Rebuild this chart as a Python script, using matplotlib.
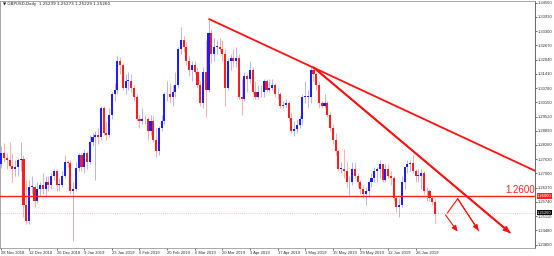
import matplotlib
matplotlib.use("Agg")
import matplotlib.pyplot as plt
import matplotlib.transforms as mtransforms
import numpy as np

plt.rcParams['font.family'] = ['Liberation Sans', 'DejaVu Sans']

# daily GBPUSD bars, 28 Nov 2018 .. 8 Jul 2019
opens = [1.2740, 1.2790, 1.2770, 1.2760, 1.2735, 1.2720, 1.2730, 1.2760, 1.2765, 1.2560,
         1.2490, 1.2640, 1.2640, 1.2580, 1.2630, 1.2650, 1.2630, 1.2660, 1.2650, 1.2690,
         1.2710, 1.2650, 1.2650, 1.2690, 1.2750, 1.2745, 1.2620, 1.2630, 1.2725, 1.2780,
         1.2730, 1.2790, 1.2750, 1.2840, 1.2860, 1.2870, 1.2860, 1.2990, 1.2880, 1.2870,
         1.2960, 1.3050, 1.3070, 1.3200, 1.3180, 1.3080, 1.3110, 1.3110, 1.3080, 1.3040,
         1.2940, 1.2930, 1.2940, 1.2940, 1.2890, 1.2930, 1.2850, 1.2800, 1.2900, 1.2930,
         1.3050, 1.3050, 1.3040, 1.3060, 1.3090, 1.3250, 1.3290, 1.3260, 1.3200, 1.3160,
         1.3180, 1.3150, 1.3090, 1.3010, 1.3150, 1.3070, 1.3320, 1.3230, 1.3260, 1.3260,
         1.3250, 1.3230, 1.3080, 1.3200, 1.3210, 1.3200, 1.3210, 1.3040, 1.3030, 1.3130,
         1.3120, 1.3160, 1.3060, 1.3040, 1.3060, 1.3060, 1.3110, 1.3070, 1.3080, 1.3090,
         1.3050, 1.3050, 1.3000, 1.3005, 1.3010, 1.2945, 1.2890, 1.2895, 1.2915, 1.2940,
         1.3040, 1.3040, 1.3040, 1.3160, 1.3140, 1.3090, 1.3010, 1.3000, 1.3010, 1.2960,
         1.2900, 1.2850, 1.2800, 1.2720, 1.2720, 1.2710, 1.2660, 1.2660, 1.2720, 1.2690,
         1.2660, 1.2630, 1.2610, 1.2620, 1.2660, 1.2680, 1.2710, 1.2720, 1.2740, 1.2670,
         1.2720, 1.2690, 1.2680, 1.2590, 1.2550, 1.2560, 1.2660, 1.2730, 1.2740, 1.2745,
         1.2710, 1.2690, 1.2690, 1.2700, 1.2620, 1.2620, 1.2590, 1.2575, 1.25239]
highs = [1.2820, 1.2835, 1.2790, 1.2840, 1.2790, 1.2760, 1.2770, 1.2840, 1.2780, 1.2670,
         1.2670, 1.2690, 1.2650, 1.2660, 1.2660, 1.2700, 1.2690, 1.2690, 1.2700, 1.2720,
         1.2720, 1.2680, 1.2710, 1.2780, 1.2760, 1.2760, 1.2660, 1.2750, 1.2790, 1.2790,
         1.2810, 1.2800, 1.2870, 1.2880, 1.2890, 1.2900, 1.3000, 1.3000, 1.2930, 1.2990,
         1.3060, 1.3100, 1.3218, 1.3215, 1.3190, 1.3140, 1.3150, 1.3140, 1.3090, 1.3050,
         1.2960, 1.2990, 1.2960, 1.2950, 1.2960, 1.2960, 1.2900, 1.2910, 1.2960, 1.3060,
         1.3110, 1.3100, 1.3090, 1.3150, 1.3260, 1.3350, 1.3310, 1.3280, 1.3220, 1.3200,
         1.3200, 1.3170, 1.3110, 1.3170, 1.3290, 1.3380, 1.3340, 1.3300, 1.3290, 1.3300,
         1.3290, 1.3250, 1.3210, 1.3230, 1.3250, 1.3260, 1.3230, 1.3120, 1.3150, 1.3140,
         1.3200, 1.3170, 1.3110, 1.3090, 1.3090, 1.3120, 1.3120, 1.3120, 1.3120, 1.3100,
         1.3080, 1.3060, 1.3020, 1.3030, 1.3020, 1.2970, 1.2930, 1.2940, 1.2960, 1.3050,
         1.3110, 1.3070, 1.3176, 1.3170, 1.3150, 1.3110, 1.3020, 1.3050, 1.3020, 1.2970,
         1.2920, 1.2880, 1.2810, 1.2750, 1.2810, 1.2750, 1.2690, 1.2750, 1.2750, 1.2700,
         1.2670, 1.2650, 1.2640, 1.2670, 1.2700, 1.2730, 1.2730, 1.2760, 1.2740, 1.2740,
         1.2740, 1.2710, 1.2690, 1.2600, 1.2590, 1.2690, 1.2730, 1.2760, 1.2760, 1.2783,
         1.2720, 1.2720, 1.2720, 1.2710, 1.2640, 1.2630, 1.2600, 1.2585, 1.25273]
lows = [1.2725, 1.2750, 1.2720, 1.2730, 1.2660, 1.2690, 1.2690, 1.2710, 1.2505, 1.2477,
        1.2475, 1.2610, 1.2550, 1.2570, 1.2600, 1.2610, 1.2600, 1.2620, 1.2630, 1.2670,
        1.2620, 1.2620, 1.2640, 1.2680, 1.2730, 1.2610, 1.2400, 1.2620, 1.2710, 1.2710,
        1.2700, 1.2720, 1.2740, 1.2820, 1.2670, 1.2830, 1.2850, 1.2870, 1.2850, 1.2860,
        1.2940, 1.3020, 1.3050, 1.3140, 1.3070, 1.3050, 1.3070, 1.3060, 1.3020, 1.2930,
        1.2900, 1.2920, 1.2920, 1.2850, 1.2870, 1.2840, 1.2773, 1.2780, 1.2890, 1.2920,
        1.3020, 1.3010, 1.3000, 1.3040, 1.3080, 1.3230, 1.3240, 1.3180, 1.3130, 1.3110,
        1.3140, 1.3080, 1.3000, 1.2990, 1.2950, 1.3060, 1.3190, 1.3200, 1.3230, 1.3240,
        1.3200, 1.3000, 1.3070, 1.3160, 1.3170, 1.3170, 1.3030, 1.2960, 1.3020, 1.3060,
        1.3100, 1.3050, 1.3030, 1.3030, 1.3040, 1.3040, 1.3060, 1.3060, 1.3070, 1.3040,
        1.3030, 1.2990, 1.2990, 1.2990, 1.2930, 1.2880, 1.2866, 1.2880, 1.2900, 1.2920,
        1.3010, 1.2990, 1.3010, 1.3110, 1.3070, 1.2990, 1.2990, 1.2990, 1.2950, 1.2890,
        1.2830, 1.2780, 1.2710, 1.2700, 1.2680, 1.2640, 1.2605, 1.2650, 1.2680, 1.2640,
        1.2610, 1.2590, 1.2560, 1.2600, 1.2640, 1.2660, 1.2660, 1.2680, 1.2660, 1.2660,
        1.2680, 1.2650, 1.2580, 1.2530, 1.2505, 1.2550, 1.2630, 1.2700, 1.2710, 1.2700,
        1.2660, 1.2660, 1.2630, 1.2610, 1.2580, 1.2580, 1.2560, 1.2480, 1.25229]
closes = [1.2790, 1.2770, 1.2760, 1.2735, 1.2720, 1.2730, 1.2760, 1.2765, 1.2560, 1.2490,
          1.2640, 1.2640, 1.2580, 1.2630, 1.2650, 1.2630, 1.2660, 1.2650, 1.2690, 1.2710,
          1.2650, 1.2650, 1.2690, 1.2750, 1.2745, 1.2620, 1.2630, 1.2725, 1.2780, 1.2730,
          1.2790, 1.2750, 1.2840, 1.2860, 1.2870, 1.2860, 1.2990, 1.2880, 1.2870, 1.2960,
          1.3050, 1.3070, 1.3200, 1.3180, 1.3080, 1.3110, 1.3110, 1.3080, 1.3040, 1.2940,
          1.2930, 1.2940, 1.2940, 1.2890, 1.2930, 1.2850, 1.2800, 1.2900, 1.2930, 1.3050,
          1.3050, 1.3040, 1.3060, 1.3090, 1.3250, 1.3290, 1.3260, 1.3200, 1.3160, 1.3180,
          1.3150, 1.3090, 1.3010, 1.3150, 1.3070, 1.3320, 1.3230, 1.3260, 1.3260, 1.3250,
          1.3230, 1.3080, 1.3200, 1.3210, 1.3200, 1.3210, 1.3040, 1.3030, 1.3130, 1.3120,
          1.3160, 1.3060, 1.3040, 1.3060, 1.3060, 1.3110, 1.3070, 1.3080, 1.3090, 1.3050,
          1.3050, 1.3000, 1.3005, 1.3010, 1.2945, 1.2890, 1.2895, 1.2915, 1.2940, 1.3040,
          1.3040, 1.3040, 1.3160, 1.3140, 1.3090, 1.3010, 1.3000, 1.3010, 1.2960, 1.2900,
          1.2850, 1.2800, 1.2720, 1.2720, 1.2710, 1.2660, 1.2660, 1.2720, 1.2690, 1.2660,
          1.2630, 1.2610, 1.2620, 1.2660, 1.2680, 1.2710, 1.2720, 1.2740, 1.2670, 1.2720,
          1.2690, 1.2680, 1.2590, 1.2550, 1.2560, 1.2660, 1.2730, 1.2740, 1.2745, 1.2710,
          1.2690, 1.2690, 1.2700, 1.2620, 1.2620, 1.2590, 1.2575, 1.2522, 1.25260]

date_ticks = [0, 10, 20, 30, 40, 50, 60, 70, 80, 90, 100, 110, 120, 130, 140, 150]
date_labels = ["28 Nov 2018", "12 Dec 2018", "26 Dec 2018", "9 Jan 2019", "23 Jan 2019",
               "6 Feb 2019", "20 Feb 2019", "6 Mar 2019", "20 Mar 2019", "3 Apr 2019",
               "17 Apr 2019", "1 May 2019", "15 May 2019", "29 May 2019", "12 Jun 2019",
               "26 Jun 2019"]
price_ticks = [1.34560, 1.33930, 1.33300, 1.32670, 1.32040, 1.31410, 1.30780, 1.30150,
               1.29520, 1.28890, 1.28260, 1.27630, 1.27000, 1.26370, 1.25740, 1.25110,
               1.24480, 1.23850]

level = 1.2600
# trend lines: (bar, price) anchors
top_line = ([75, 193.5], [1.3385, 1.2710])
steep_line = ([113, 184.3], [1.3170, 1.2436])
# projected path
zig = ([161.5, 165.2, 172.8], [1.2525, 1.2588, 1.2446])
short_arrow = ([160.8, 165.2], [1.2516, 1.2442])

BULL = "#1c1cff"
BEAR = "#ff1c1c"
LINE = "#ff1010"

fig = plt.figure(figsize=(5.54, 2.56), dpi=100)
ax = fig.add_axes([0.0, 8 / 256, 535 / 554, 247 / 256])

o = np.array(opens); h = np.array(highs); l = np.array(lows); c = np.array(closes)
idx = np.arange(len(o))
up = c >= o
wick_col = np.where(up, "#a8a8ff", "#ffa0a0")
body_col = np.where(up, BULL, BEAR)
ax.vlines(idx, l, h, colors=wick_col, lw=0.6, zorder=2)
bottom = np.minimum(o, c)
height = np.maximum(np.abs(c - o), 0.00025)
ax.bar(idx, height, bottom=bottom, width=0.75, color=body_col, linewidth=0, zorder=3)

# current price dotted line and 1.2600 level
ax.axhline(c[-1], color="#ffb0b0", lw=0.6, ls=(0, (1, 1.5)), zorder=1)
ax.axhline(level, color="#ff2020", lw=1.0, zorder=4)
ax.text(182.5, level + 0.0003, "1.2600", color="#ff2020", fontsize=7, va="bottom", ha="left")

ax.plot(*top_line, color=LINE, lw=1.3, zorder=5, solid_capstyle="butt")
ax.plot(*steep_line, color=LINE, lw=1.3, zorder=5, solid_capstyle="butt")
ax.plot(*zig, color=LINE, lw=0.8, zorder=5)
for (xs, ys), w in [(zig, 0.8), (short_arrow, 0.8), (steep_line, 1.3)]:
    ax.annotate("", xy=(xs[-1], ys[-1]), xytext=(xs[-2], ys[-2]),
                arrowprops=dict(arrowstyle="-|>,head_length=0.35,head_width=0.15",
                                color=LINE, lw=w, shrinkA=0, shrinkB=0), zorder=5)

ax.set_xlim(-0.5, 193.2)
ax.set_ylim(1.23696, 1.34638)

ax.yaxis.tick_right()
ax.set_yticks(price_ticks)
ax.set_yticklabels([f"{v:.5f}" for v in price_ticks])
ax.set_xticks(date_ticks)
ax.set_xticklabels(date_labels, ha="left")
ax.tick_params(axis="both", labelsize=3.0, length=1.5, width=0.5, colors="#303030", pad=0.8)
for s in ax.spines.values():
    s.set_color("#9a9a9a")
    s.set_linewidth(0.6)
ax.spines["right"].set_color("#505050")

# price labels on the right scale
tr = mtransforms.blended_transform_factory(ax.transAxes, ax.transData)
ax.text(1.004, level, f"{level:.5f}", transform=tr, fontsize=3.0, color="white", va="center",
        ha="left", bbox=dict(boxstyle="square,pad=0.15", fc="#ff2020", ec="none"), zorder=6)
ax.text(1.004, c[-1], f"{c[-1]:.5f}", transform=tr, fontsize=3.0, color="white", va="center",
        ha="left", bbox=dict(boxstyle="square,pad=0.15", fc="black", ec="none"), zorder=6)

ax.text(0.006, 0.995, "\u25bc GBPUSD,Daily  1.25239 1.25273 1.25229 1.25260", transform=ax.transAxes,
        fontsize=3.0, va="top", ha="left", color="#202020",
        family=['DejaVu Sans'])

fig.savefig("out.png", dpi=100)
